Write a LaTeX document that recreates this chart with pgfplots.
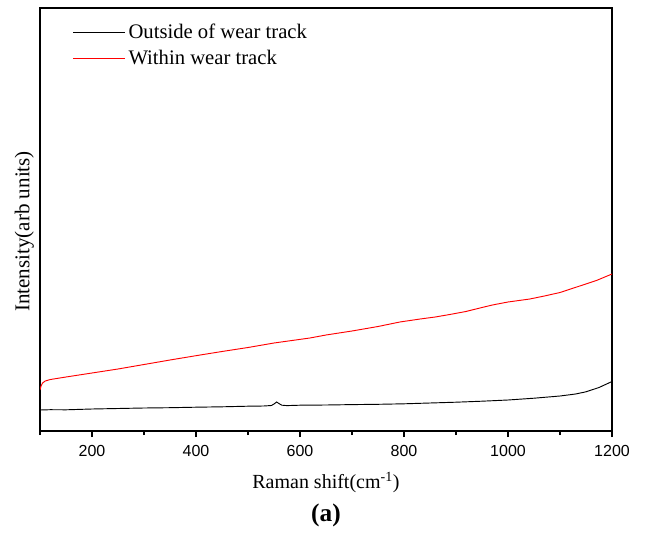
\documentclass[border=0pt]{standalone}
\usepackage{fontspec}
\setmainfont{Liberation Serif}
\newfontfamily\arial{Liberation Sans}
\usepackage{pgfplots}
\pgfplotsset{compat=1.18}
\begin{document}
\begin{tikzpicture}
\begin{axis}[
  name=ax,
  scale only axis,
  width=429pt, height=317.25pt,
  xmin=100, xmax=1200, ymin=0, ymax=423,
  axis line style={line width=1.1pt},
  xtick={200,400,600,800,1000,1200},
  minor xtick={100,300,500,700,900,1100},
  xtick pos=bottom,
  tick align=inside,
  major tick length=4.5pt,
  minor tick length=3pt,
  xtick style={yshift=-4.5pt, line width=0.8pt, black},
  minor x tick style={yshift=1.5pt},
  ytick=\empty,
  minor ytick={12,24,...,420},
  minor y tick style={line width=0.6pt, black},
  ytick pos=both,
  tick label style={font=\arial\fontsize{12}{14}\selectfont},
  /pgf/number format/assume math mode=true,
  /pgf/number format/set thousands separator={},
  xticklabel style={yshift=-7pt},
  xlabel={Raman shift(cm\textsuperscript{-1})},
  ylabel={Intensity(arb units)},
  xlabel style={font=\fontsize{15}{17}\selectfont, yshift=-5pt},
  ylabel style={font=\fontsize{15.8}{17}\selectfont, yshift=1pt, xshift=-9pt},
  legend style={draw=none, fill=none, at={(0.05,0.975)}, anchor=north west,
    font=\fontsize{15.5}{18}\selectfont, row sep=3pt},
  legend cell align=left,
  legend image code/.code={\draw[#1, line width=0.75pt] (0pt,0pt) -- (39pt,0pt);},
]
\addplot[black, line width=0.7pt] coordinates {
(100,21) (120,21.3) (150,21.2) (200,22) (250,22.5) (300,23) (350,23.3) (400,23.8) (450,24.2)
(500,24.8) (530,25) (545,25.5) (550,27) (555,29) (560,27.3) (565,25.8) (575,25.4) (600,25.8)
(650,26) (700,26.4) (750,26.7) (800,27.2) (850,28) (900,28.8) (950,29.8) (1000,31)
(1050,32.8) (1100,35) (1130,37) (1150,39.2) (1175,43.5) (1200,49.5)
};
\addlegendentry{Outside of wear track}
\addplot[red, line width=0.7pt] coordinates {
(100,41) (102,45) (105,48) (110,50) (120,51.5) (150,54) (200,58) (250,62) (300,66.5) (350,71)
(408,76) (450,79.5) (500,83.5) (550,88) (619,93) (650,96) (700,100) (750,104.5) (792,109)
(831,112) (860,114) (888,116.5) (919,119.5) (946,123) (970,126) (1000,129) (1042,132)
(1070,135) (1100,138.5) (1138,145) (1170,150.5) (1200,157)
};
\addlegendentry{Within wear track}
\end{axis}
\node[font=\bfseries\fontsize{19}{21}\selectfont] at ([yshift=-63pt]ax.south) {(a)};
\path (ax.south west) ++(-30pt,-75.75pt) rectangle ([shift={(24.75pt,6pt)}]ax.north east);
\end{tikzpicture}
\end{document}
